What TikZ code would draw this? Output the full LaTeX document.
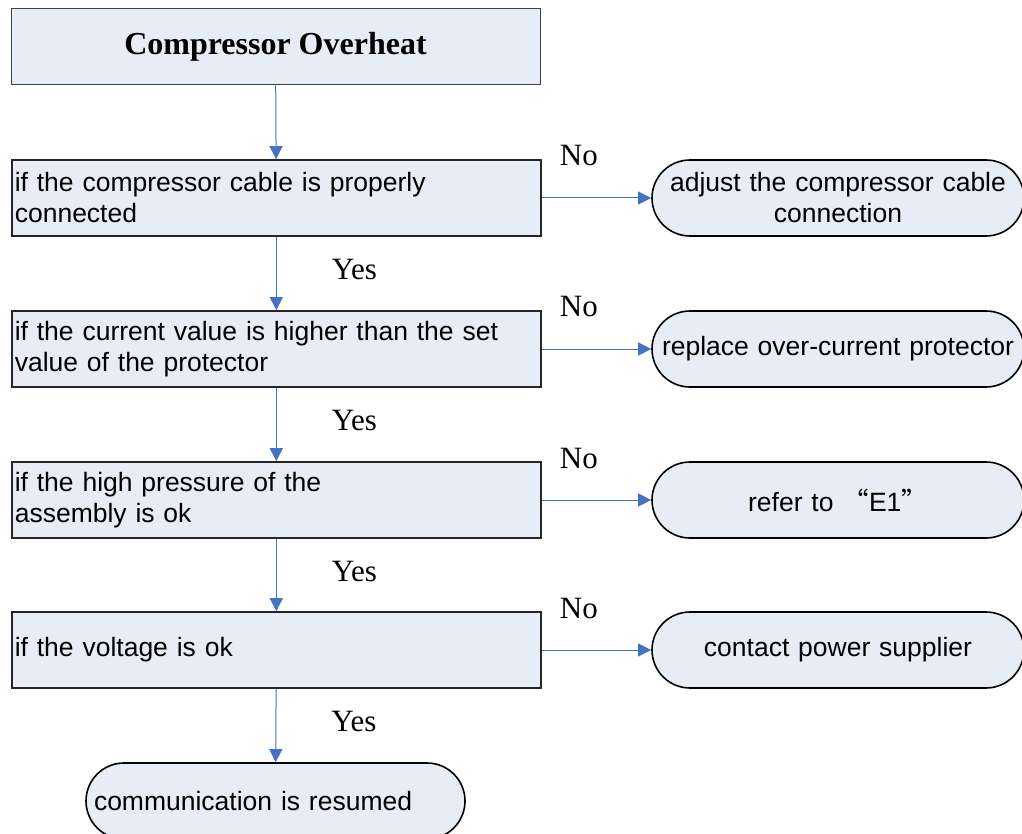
\documentclass[tikz,border=0pt]{standalone}
\usepackage{fontspec}
\setmainfont{Liberation Sans}
\newfontfamily\timesfont{Liberation Serif}
\newfontfamily\cjkfont{Noto Sans CJK SC}
\usetikzlibrary{arrows.meta}
\definecolor{box-fill}{RGB}{231,237,247}
\definecolor{flow-blue}{RGB}{70,114,196}

\begin{document}
\begin{tikzpicture}[x=1pt, y=-1pt,
  font=\fontsize{26.5}{31}\selectfont,
  titlebox/.style={draw=black!75, line width=1pt, fill=box-fill,
    minimum width=529pt, minimum height=76pt, inner sep=0pt},
  testbox/.style={draw=black!85, line width=1.6pt, fill=box-fill,
    anchor=west, minimum height=76pt, text width=523pt,
    inner xsep=3pt, align=left},
  endbox/.style={draw=black, line width=1.6pt, fill=box-fill,
    rounded corners=38pt, minimum height=76pt, text width=360pt,
    inner xsep=6pt, align=center},
  flow/.style={-{Triangle[width=13pt, length=13pt]}, flow-blue,
    line width=1pt},
  nolab/.style={pos=0.34, yshift=42pt, text=black,
    font=\timesfont\fontsize{31}{31}\selectfont},
  yeslab/.style={midway, xshift=78pt, yshift=4pt, text=black,
    font=\timesfont\fontsize{31}{31}\selectfont}]
  % Cadre
  \useasboundingbox (0,0) rectangle (1022,834);
  \clip (0,0) rectangle (1022,834);

  % Titre
  \node[titlebox, font=\timesfont\bfseries\fontsize{32}{32}\selectfont]
    (title) at (275.5,47) {Compressor Overheat};

  % Tests et actions (branche No)
  \foreach \i/\y/\txt/\res in {
    1/198/{if the compressor cable is properly\\connected}/%
      {adjust the compressor cable\\connection},
    2/349/{if the current value is higher than the set\\value of the protector}/%
      {replace over-current protector},
    3/500/{if the high pressure of the\\assembly is ok}/%
      {refer to\hspace{9pt}{\cjkfont “}E1{\cjkfont ”}},
    4/650/{if the voltage is ok}/%
      {contact power supplier}}{
    \node[testbox] (d\i) at (11,\y) {\txt};
    \node[endbox] (r\i) at (838,\y) {\res};
    \draw[flow] (d\i) -- node[nolab] {No} (r\i);
  }

  % Fin
  \node[endbox, text width=363pt, inner xsep=8pt, align=left]
    (done) at (275.5,801) {communication is resumed};

  % Branche Yes
  \draw[flow] (title) -- (d1);
  \foreach \a/\b in {d1/d2, d2/d3, d3/d4, d4/done}
    \draw[flow] (\a) -- node[yeslab] {Yes} (\b);
\end{tikzpicture}
\end{document}
